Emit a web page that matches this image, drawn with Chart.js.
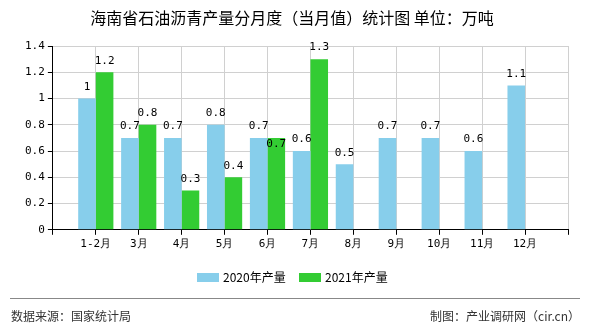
<!DOCTYPE html>
<html>
<head>
<meta charset="utf-8">
<script src="https://cdn.jsdelivr.net/npm/chart.js@4.4.0/dist/chart.umd.min.js"></script>
<style>
  html, body { margin: 0; padding: 0; background: #fff; }
  #wrap { width: 590px; height: 330px; position: relative; }
</style>
</head>
<body>
<div id="wrap"><canvas id="c" width="590" height="330"></canvas></div>
<script>
// 数据
const months = ['1-2月', '3月', '4月', '5月', '6月', '7月', '8月', '9月', '10月', '11月', '12月'];
const output2020 = [1, 0.7, 0.7, 0.8, 0.7, 0.6, 0.5, 0.7, 0.7, 0.6, 1.1];
const output2021 = [1.2, 0.8, 0.3, 0.4, 0.7, 1.3, null, null, null, null, null];
const yTicks = [0, 0.2, 0.4, 0.6, 0.8, 1, 1.2, 1.4];

const titleText = '海南省石油沥青产量分月度（当月值）统计图 单位：万吨';
const sourceText = '数据来源：国家统计局';
const makerText = '制图：产业调研网（cir.cn）';
const monoFont = '"DejaVu Sans Mono", "Liberation Mono", monospace';
const cjkFont = '"Noto Sans CJK SC", sans-serif';

// x轴两端各留一个空位
const pad = arr => [null, ...arr, null];

// 标题、数值、图例、底部说明
const decorations = {
    id: 'decorations',
    afterDatasetsDraw(chart) {
        const ctx = chart.ctx;
        ctx.save();
        ctx.fillStyle = '#000';
        ctx.textAlign = 'center';
        ctx.textBaseline = 'top';
        ctx.font = '11px ' + monoFont;
        const placed = [];
        const h = 12;
        chart.data.datasets.forEach((ds, i) => {
            const meta = chart.getDatasetMeta(i);
            meta.data.forEach((bar, j) => {
                const v = ds.data[j];
                if (v === null || v === undefined) return;
                const text = String(v);
                const w = ctx.measureText(text).width;
                let top = bar.y - 5 - h;
                const hit = placed.some(r => bar.x - w / 2 < r.x2 && bar.x + w / 2 > r.x1 && top < r.y2 && top + h > r.y1);
                // 与已有标签重叠时放到柱顶内侧
                if (hit) top = bar.y + 1;
                placed.push({ x1: bar.x - w / 2, x2: bar.x + w / 2, y1: top, y2: top + h });
                ctx.fillText(text, bar.x, top);
            });
        });
        ctx.restore();
    },
    afterDraw(chart) {
        const ctx = chart.ctx;
        ctx.save();
        ctx.fillStyle = '#000';
        ctx.textBaseline = 'middle';
        ctx.textAlign = 'center';
        ctx.font = '16px ' + cjkFont;
        ctx.fillText(titleText, 292, 18);

        // 图例
        ctx.textAlign = 'left';
        ctx.font = '12px ' + cjkFont;
        const legendItems = [
            { x: 197, color: chart.data.datasets[0].backgroundColor, label: chart.data.datasets[0].label },
            { x: 299, color: chart.data.datasets[1].backgroundColor, label: chart.data.datasets[1].label }
        ];
        legendItems.forEach(item => {
            ctx.fillStyle = item.color;
            ctx.fillRect(item.x, 273, 22, 9);
            ctx.fillStyle = '#000';
            ctx.fillText(item.label, item.x + 26, 277);
        });

        // 底部
        ctx.strokeStyle = '#888';
        ctx.lineWidth = 1;
        ctx.beginPath();
        ctx.moveTo(10, 298.5);
        ctx.lineTo(580, 298.5);
        ctx.stroke();
        ctx.fillStyle = '#333';
        ctx.font = '12px ' + cjkFont;
        ctx.textAlign = 'left';
        ctx.fillText(sourceText, 11, 316);
        ctx.textAlign = 'right';
        ctx.fillText(makerText, 580, 316);
        ctx.restore();
    }
};

new Chart(document.getElementById('c'), {
    type: 'bar',
    data: {
        labels: ['', ...months, ''],
        datasets: [
            { label: '2020年产量', data: pad(output2020), backgroundColor: '#87CEEB' },
            { label: '2021年产量', data: pad(output2021), backgroundColor: '#33CC33' }
        ]
    },
    options: {
        responsive: false,
        animation: false,
        layout: { padding: { top: 46, bottom: 76, left: 22, right: 22 } },
        plugins: {
            legend: { display: false },
            title: { display: false },
            tooltip: { enabled: false }
        },
        datasets: {
            bar: { categoryPercentage: 0.82, barPercentage: 1 }
        },
        scales: {
            x: {
                offset: false,
                grid: { offset: false, color: '#d0d0d0', tickColor: '#000', tickLength: 5 },
                border: { color: '#000', width: 1 },
                ticks: { color: '#000', font: { family: monoFont, size: 11 }, padding: 3, autoSkip: false, maxRotation: 0 }
            },
            y: {
                min: 0,
                max: 1.4,
                afterBuildTicks(axis) { axis.ticks = yTicks.map(v => ({ value: v })); },
                grid: { color: '#d0d0d0', tickColor: '#000', tickLength: 5 },
                border: { color: '#000', width: 1 },
                ticks: { color: '#000', font: { family: monoFont, size: 11 }, padding: 3, callback: v => String(v) }
            }
        }
    },
    plugins: [decorations]
});
</script>
</body>
</html>
